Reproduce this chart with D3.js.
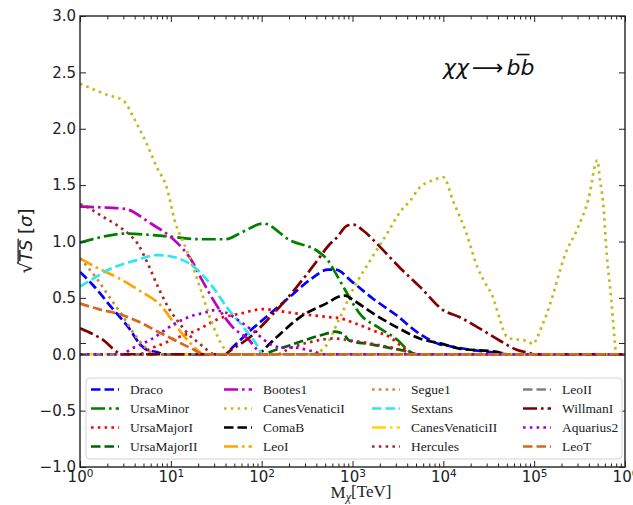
<!DOCTYPE html>
<html>
<head>
<meta charset="utf-8">
<title>TS vs mass</title>
<script src="https://d3js.org/d3.v7.min.js"></script>
<style>
    body { margin: 0; background: #fff; }
    svg { display: block; }
</style>
</head>
<body>
<svg id="chart" width="633" height="505"></svg>
<script>
// source names, in plotting / legend order
const names = ["Draco", "UrsaMinor", "UrsaMajorI", "UrsaMajorII",
    "Bootes1", "CanesVenaticiI", "ComaB", "LeoI",
    "Segue1", "Sextans", "CanesVenaticiII", "Hercules",
    "LeoII", "WillmanI", "Aquarius2", "LeoT"];

// [mass in TeV, sqrt(TS)]
const draco = [[1,0.73],[1.33,0.63],[2.2,0.42],[3.4,0.24],[4.7,0.08],[5.4,0.04],[7,0.02],[8.5,0],[40,0],[45,0.04],[75,0.21],[124,0.36],[205,0.51],[340,0.66],[540,0.75],[650,0.75],[1000,0.64],[1700,0.49],[3000,0.35],[5500,0.18],[9000,0.09],[12000,0.07],[20000,0.04],[40000,0.01],[50000,0],[1e6,0]];
const ursaMinor = [[1,0.99],[2,1.05],[3.1,1.07],[8,1.05],[22,1.02],[40,1.02],[60,1.08],[104,1.16],[205,1.01],[420,0.91],[540,0.83],[640,0.73],[830,0.57],[1200,0.36],[2000,0.23],[3200,0.12],[4300,0.02],[5000,0],[1e6,0]];
const ursaMajorI = [[1,0],[4.5,0],[6,0.05],[8,0.09],[12,0.15],[19,0.21],[35,0.32],[58,0.36],[103,0.40],[200,0.37],[540,0.33],[720,0.32],[1100,0.27],[1700,0.21],[2600,0.15],[3600,0.06],[4300,0.02],[5000,0],[1e6,0]];
const ursaMajorII = [[1,0],[110,0],[124,0.02],[205,0.08],[340,0.14],[500,0.18],[640,0.20],[790,0.18],[930,0.12],[1550,0.09],[2800,0.05],[4300,0.02],[5000,0],[1e6,0]];
const bootes1 = [[1,1.31],[2,1.30],[3.1,1.29],[6,1.16],[11,1.01],[17,0.83],[22,0.66],[34,0.40],[48,0.24],[74,0.12],[91,0.03],[100,0],[1e6,0]];
const canesVenaticiI = [[1,2.40],[2,2.30],[3,2.25],[4,2.08],[5.4,1.87],[7,1.66],[9,1.48],[11,1.19],[15,0.92],[21,0.59],[28,0.29],[38,0.06],[45,0],[350,0],[480,0.05],[730,0.33],[1020,0.58],[1560,0.83],[2400,1.07],[3400,1.27],[4300,1.36],[5500,1.48],[7500,1.54],[10000,1.57],[12800,1.36],[18000,1.07],[23500,0.78],[29000,0.63],[35000,0.51],[41500,0.32],[47700,0.18],[54000,0.14],[67000,0.13],[83000,0.12],[98000,0.09],[107000,0.14],[116000,0.21],[138000,0.36],[163000,0.54],[192000,0.74],[218000,0.88],[294000,1.10],[397000,1.38],[496000,1.72],[531000,1.54],[572000,1.36],[630000,0.88],[684000,0.60],[733000,0.33],[777000,0.09],[800000,0],[1e6,0]];
const comaB = [[1,0],[95,0],[100,0.02],[160,0.18],[265,0.33],[540,0.46],[700,0.51],[830,0.52],[1020,0.48],[1700,0.36],[3070,0.24],[5500,0.14],[10000,0.09],[15000,0.05],[40000,0.02],[50000,0],[1e6,0]];
const leoI = [[1,0.85],[1.6,0.76],[2.6,0.68],[4.4,0.57],[8,0.42],[11,0.27],[15.5,0.12],[20,0.03],[23,0],[1e6,0]];
const segue1 = [[1,0.85],[1.5,0.68],[2.1,0.51],[3,0.33],[4.2,0.15],[5.4,0.05],[6.5,0],[1e6,0]];
const sextans = [[1,0.60],[1.33,0.66],[2.2,0.76],[4,0.83],[7.2,0.88],[11,0.86],[17,0.79],[25,0.66],[30,0.58],[41,0.42],[63,0.24],[89,0.08],[100,0.01],[105,0],[1e6,0]];
const canesVenaticiII = [[1,0],[1e6,0]];
const hercules = [[1,1.33],[1.1,1.32],[1.7,1.23],[2.6,1.14],[3.4,1.07],[4.4,0.97],[5.6,0.80],[7.2,0.60],[9.3,0.42],[12,0.29],[15.5,0.18],[21,0.09],[24,0.05],[30,0],[150,0],[200,0.05],[350,0.11],[620,0.14],[1000,0.12],[1700,0.09],[3000,0.05],[4000,0.02],[4500,0],[1e6,0]];
const leoII = [[1,0],[1e6,0]];
const willmanI = [[1,0.23],[1.7,0.14],[3,0],[40,0],[43,0.02],[74,0.15],[124,0.33],[245,0.60],[400,0.82],[540,0.96],[680,1.04],[870,1.14],[1020,1.15],[1300,1.10],[1860,0.98],[3300,0.77],[5500,0.60],[10000,0.39],[15000,0.33],[25000,0.23],[42000,0.12],[64000,0.04],[90000,0.01],[100000,0],[1e6,0]];
const aquarius2 = [[1,0],[3,0],[3.4,0.03],[6,0.13],[11,0.27],[17,0.34],[24,0.37],[29,0.39],[40,0.37],[58,0.29],[89,0.18],[124,0.09],[160,0.06],[220,0.06],[350,0.03],[500,0],[1e6,0]];
const leoT = [[1,0.45],[1.6,0.40],[2.6,0.36],[4.4,0.29],[7.2,0.20],[12,0.11],[18,0.04],[23,0],[1e6,0]];

const seriesValues = [draco, ursaMinor, ursaMajorI, ursaMajorII, bootes1, canesVenaticiI, comaB, leoI,
    segue1, sextans, canesVenaticiII, hercules, leoII, willmanI, aquarius2, leoT];

const yTicks = [-1, -0.5, 0, 0.5, 1, 1.5, 2, 2.5, 3];
const yExtraTicks = [0.1];
const xDecades = [0, 1, 2, 3, 4, 5, 6];

// styles
const colors = ["#0000ff", "#008000", "#ff0000", "#006400",
    "#bf00bf", "#bcbd22", "#000000", "#ffa500",
    "#cd853f", "#2ee6f0", "#ffd700", "#a52a2a",
    "#808080", "#800000", "#9400d3", "#d2691e"];
const dashes = { dashed: "9.5,4", dashdot: "14,4,2.6,4", dotted: "2.6,4.2" };
const cycle = ["dashed", "dashdot", "dotted"];
const lw = 2.7;

const svg = d3.select("#chart");
const width = +svg.attr("width");
const height = +svg.attr("height");
const margin = { top: 16, right: 8, bottom: 38, left: 80 };

const x = d3.scaleLog()
    .domain([1, 1e6])
    .range([margin.left, width - margin.right]);

const y = d3.scaleLinear()
    .domain([-1, 3])
    .range([height - margin.bottom, margin.top]);

svg.append("clipPath").attr("id", "clip")
    .append("rect")
    .attr("x", margin.left).attr("y", margin.top)
    .attr("width", width - margin.left - margin.right)
    .attr("height", height - margin.top - margin.bottom);

// curves
const line = d3.line()
    .x((d) => x(d[0]))
    .y((d) => y(d[1]))
    .curve(d3.curveMonotoneX);

svg.append("g")
    .attr("clip-path", "url(#clip)")
    .attr("fill", "none")
    .selectAll("path")
    .data(seriesValues)
    .join("path")
    .attr("d", line)
    .attr("stroke", (d, i) => colors[i])
    .attr("stroke-width", lw)
    .attr("stroke-dasharray", (d, i) => dashes[cycle[i % 3]]);

// axes
const majorX = xDecades.map((e) => Math.pow(10, e));
const minorX = [];
xDecades.slice(0, -1).forEach((e) => {
    for (let k = 2; k < 10; k++) minorX.push(k * Math.pow(10, e));
});

const tickFont = "15px 'DejaVu Sans'";

const gx = svg.append("g")
    .attr("transform", `translate(0,${height - margin.bottom})`)
    .call(d3.axisBottom(x).tickValues(majorX).tickSizeInner(-6).tickSizeOuter(0).tickPadding(4));
gx.selectAll(".tick text").each(function (d) {
    const t = d3.select(this).text("").style("font", tickFont).attr("fill", "#222");
    t.append("tspan").text("10");
    t.append("tspan").attr("dy", "-0.45em").attr("font-size", "0.7em")
        .text(Math.round(Math.log10(d)));
});
svg.append("g")
    .attr("transform", `translate(0,${height - margin.bottom})`)
    .call(d3.axisBottom(x).tickValues(minorX).tickSizeInner(-3.5).tickSizeOuter(0).tickFormat(""));
svg.append("g")
    .attr("transform", `translate(0,${margin.top})`)
    .call(d3.axisTop(x).tickValues(majorX).tickSizeInner(-6).tickSizeOuter(0).tickFormat(""));
svg.append("g")
    .attr("transform", `translate(0,${margin.top})`)
    .call(d3.axisTop(x).tickValues(minorX).tickSizeInner(-3.5).tickSizeOuter(0).tickFormat(""));

const gy = svg.append("g")
    .attr("transform", `translate(${margin.left},0)`)
    .call(d3.axisLeft(y).tickValues(yTicks).tickSizeInner(-6).tickSizeOuter(0).tickPadding(4)
        .tickFormat((d) => d3.format(".1f")(d).replace("-", "\u2212")));
gy.selectAll(".tick text").style("font", tickFont).attr("fill", "#222");
svg.append("g")
    .attr("transform", `translate(${margin.left},0)`)
    .call(d3.axisLeft(y).tickValues(yExtraTicks).tickSizeInner(-6).tickSizeOuter(0).tickFormat(""));
svg.append("g")
    .attr("transform", `translate(${width - margin.right},0)`)
    .call(d3.axisRight(y).tickValues(yTicks.concat(yExtraTicks)).tickSizeInner(-6).tickSizeOuter(0).tickFormat(""));

svg.selectAll(".domain").remove();
svg.selectAll(".tick line").attr("stroke", "#222").attr("stroke-width", 1);

svg.append("rect")
    .attr("x", margin.left).attr("y", margin.top)
    .attr("width", width - margin.left - margin.right)
    .attr("height", height - margin.top - margin.bottom)
    .attr("fill", "none")
    .attr("stroke", "#222")
    .attr("stroke-width", 1.4);

// axis labels
const xl = svg.append("text")
    .attr("x", 361)
    .attr("y", 498)
    .attr("text-anchor", "middle")
    .style("font", "17px 'Liberation Serif'")
    .attr("fill", "#222");
xl.append("tspan").text("M");
xl.append("tspan").attr("font-style", "italic").attr("font-size", "0.72em").attr("dy", "0.25em").text("χ");
xl.append("tspan").attr("dy", "-0.25em").text("[TeV]");

const fsY = 18;
const yl = svg.append("g").attr("transform", "translate(32,241) rotate(-90)");
const ylt = yl.append("text")
    .attr("text-anchor", "middle")
    .style("font", `${fsY}px 'DejaVu Sans'`)
    .attr("fill", "#222");
ylt.append("tspan").text("√");
ylt.append("tspan").attr("font-style", "italic").text("TS");
ylt.append("tspan").text(" [");
ylt.append("tspan").attr("font-style", "italic").text("σ");
ylt.append("tspan").text("]");
{
    const n = ylt.node();
    const total = n.getComputedTextLength();
    const w0 = n.getSubStringLength(0, 1);
    const w1 = n.getSubStringLength(1, 2);
    const x0 = -total / 2;
    yl.append("line")
        .attr("x1", x0 + w0 - 1).attr("x2", x0 + w0 + w1 + 1)
        .attr("y1", -0.77 * fsY).attr("y2", -0.77 * fsY)
        .attr("stroke", "#222").attr("stroke-width", 1.3);
}

// reaction label
const fsT = 22;
const tt = svg.append("text")
    .attr("x", 443).attr("y", 75)
    .style("font", `${fsT}px 'DejaVu Sans'`)
    .attr("fill", "#111");
tt.append("tspan").attr("font-style", "italic").text("χχ");
tt.append("tspan").attr("dx", 3).text("⟶");
tt.append("tspan").attr("dx", 3).attr("font-style", "italic").text("b");
tt.append("tspan").attr("font-style", "italic").text("b");
{
    const n = tt.node();
    const total = n.getComputedTextLength();
    const wb = n.getSubStringLength(4, 1);
    const xr = 443 + total;
    svg.append("line")
        .attr("x1", xr - wb + 2).attr("x2", xr + 1)
        .attr("y1", 75 - 0.93 * fsT).attr("y2", 75 - 0.93 * fsT)
        .attr("stroke", "#111").attr("stroke-width", 1.6);
}

// legend
const legend = svg.append("g");
legend.append("rect")
    .attr("x", 86).attr("y", 378)
    .attr("width", 536).attr("height", 81)
    .attr("rx", 4)
    .attr("fill", "#fff").attr("fill-opacity", 0.8)
    .attr("stroke", "#d4d4d4").attr("stroke-width", 1);

const colX = [91, 224, 372, 523];
const rowY0 = 389.5, rowStep = 19;

const items = legend.selectAll("g.item")
    .data(names)
    .join("g")
    .attr("class", "item")
    .attr("transform", (d, i) => `translate(${colX[Math.floor(i / 4)]},${rowY0 + (i % 4) * rowStep})`);

items.append("line")
    .attr("x1", 0).attr("x2", 28)
    .attr("stroke", (d, i) => colors[i])
    .attr("stroke-width", lw)
    .attr("stroke-dasharray", (d, i) => dashes[cycle[i % 3]]);

items.append("text")
    .attr("x", 39)
    .attr("dy", "0.33em")
    .style("font", "13.5px 'Liberation Serif'")
    .attr("fill", "#222")
    .text((d) => d);
</script>
</body>
</html>
